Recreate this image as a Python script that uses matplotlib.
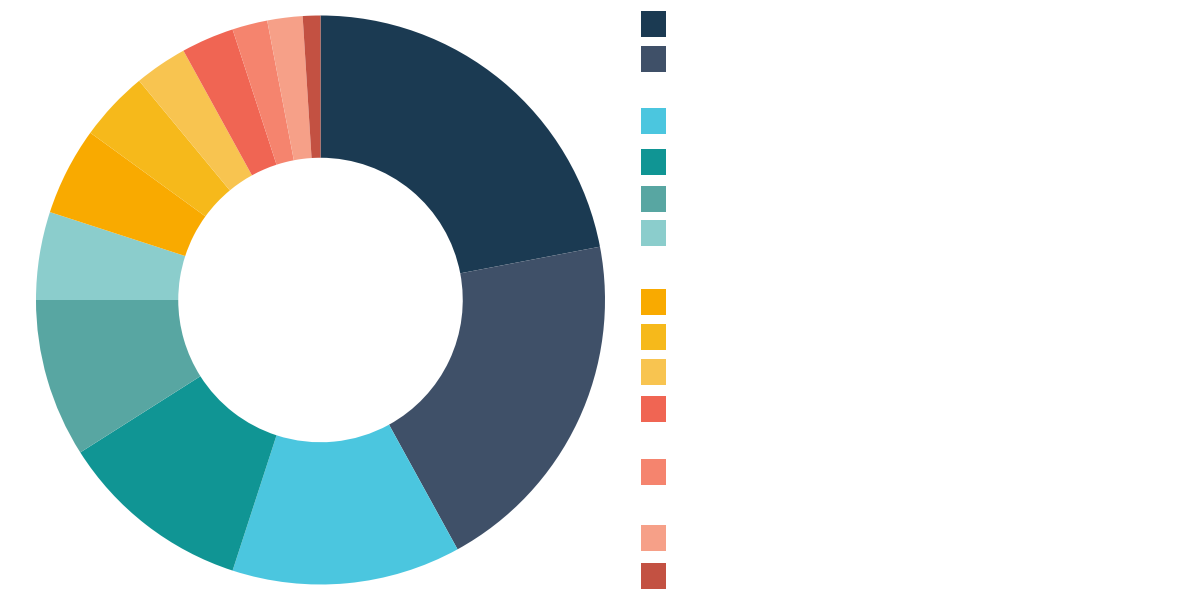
import matplotlib
matplotlib.use("Agg")
import matplotlib.pyplot as plt
from matplotlib.patches import Rectangle

# Data (percent shares, clockwise from top)
values = [22, 20, 13, 11, 9, 5, 5, 4, 3, 3, 2, 2, 1]
colors = ["#1b3a52", "#3f5068", "#4bc6df", "#109594", "#58a6a2", "#8bcdcc",
          "#f9aa00", "#f6b91b", "#f8c450", "#f06553", "#f5846e", "#f6a088",
          "#c35142"]

# Legend layout (top y in pixels of each swatch)
legend_tops = [11, 46, 108, 149, 186, 220, 289, 324, 359, 396, 459, 525, 563]

W, H = 1200, 600
fig = plt.figure(figsize=(12, 6), dpi=100)
fig.patch.set_facecolor("white")

ax = fig.add_axes([36 / W, 15.5 / H, 569 / W, 569 / H])
ax.pie(values, colors=colors, startangle=90, counterclock=False, radius=1,
       wedgeprops=dict(width=0.5, edgecolor="none", linewidth=0))
ax.set_xlim(-1, 1)
ax.set_ylim(-1, 1)
ax.set_aspect("equal")
ax.axis("off")

for top, c in zip(legend_tops, colors):
    fig.patches.append(Rectangle((641 / W, 1 - (top + 26) / H), 25 / W, 26 / H,
                                 transform=fig.transFigure, facecolor=c,
                                 edgecolor="none"))

fig.savefig("out.png", dpi=100, facecolor="white")
